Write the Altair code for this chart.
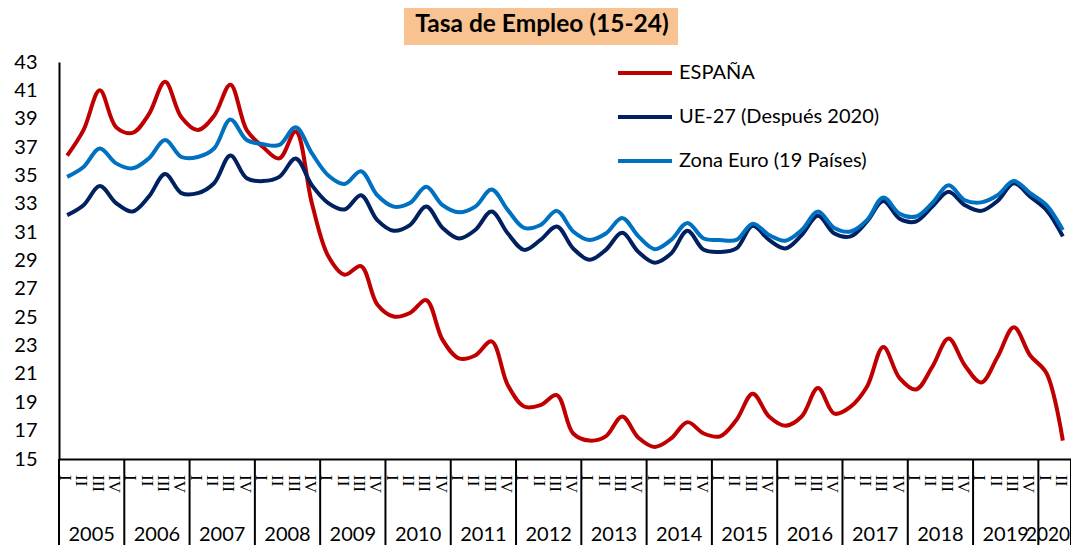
import altair as alt
import pandas as pd

years = list(range(2005, 2021))
quarters = ["I", "II", "III", "IV"]
series_names = ["ESPAÑA", "UE-27 (Después 2020)", "Zona Euro (19 Países)"]
series_colors = ["#C00000", "#002060", "#0070C0"]
title_text = "Tasa de Empleo (15-24)"
y_ticks = list(range(15, 44, 2))

espana = [
    36.4, 38.2, 41.0, 38.4,
    38.0, 39.3, 41.6, 39.1,
    38.2, 39.2, 41.4, 38.2,
    37.0, 36.2, 38.1, 33.0,
    29.3, 28.0, 28.6, 25.9,
    25.05, 25.3, 26.2, 23.4,
    22.1, 22.3, 23.3, 20.2,
    18.7, 18.8, 19.5, 16.8,
    16.3, 16.6, 18.0, 16.5,
    15.85, 16.45, 17.6, 16.8,
    16.6, 17.75, 19.6, 18.0,
    17.35, 18.0, 20.0, 18.2,
    18.7, 20.1, 22.9, 20.7,
    19.9, 21.5, 23.5, 21.6,
    20.4, 22.2, 24.3, 22.3,
    21.05, 16.3,
]
ue27 = [
    32.2, 32.9, 34.25, 33.05,
    32.45, 33.5, 35.1, 33.75,
    33.75, 34.45, 36.4, 34.8,
    34.6, 34.9, 36.2, 34.3,
    33.05, 32.6, 33.6, 31.85,
    31.1, 31.5, 32.8, 31.3,
    30.55, 31.15, 32.45, 30.9,
    29.75, 30.45, 31.4, 29.85,
    29.05, 29.75, 30.95, 29.6,
    28.85, 29.5, 31.1, 29.75,
    29.6, 29.85, 31.45, 30.45,
    29.85, 30.8, 32.15, 30.9,
    30.7, 31.75, 33.2, 31.95,
    31.75, 32.8, 33.85, 32.9,
    32.5, 33.2, 34.45, 33.5,
    32.55, 30.7,
]
zona = [
    34.9, 35.6, 36.9, 35.85,
    35.5, 36.2, 37.5, 36.3,
    36.3, 36.9, 38.95, 37.5,
    37.2, 37.15, 38.4, 36.55,
    35.0, 34.4, 35.3, 33.6,
    32.8, 33.05, 34.2, 32.9,
    32.4, 32.8, 34.0, 32.55,
    31.3, 31.5, 32.5, 31.05,
    30.45, 30.9, 32.0, 30.7,
    29.8, 30.45, 31.65, 30.55,
    30.45, 30.45, 31.6, 30.8,
    30.4, 31.15, 32.45, 31.3,
    31.05, 31.85, 33.45, 32.3,
    32.1, 33.05, 34.3, 33.25,
    33.1, 33.6, 34.6, 33.75,
    32.9, 31.15,
]

n = len(espana)
rows = []
for name, vals in zip(series_names, [espana, ue27, zona]):
    for i, v in enumerate(vals):
        rows.append({"idx": i, "serie": name, "valor": v,
                     "order": series_names.index(name)})
df = pd.DataFrame(rows)

qdf = pd.DataFrame({"idx": list(range(n)), "q": [quarters[i % 4] for i in range(n)]})
ydf = pd.DataFrame({
    "year": [str(y) for y in years],
    "start": [4 * k - 0.5 for k in range(len(years))],
    "mid": [(4 * k - 0.5 + min(4 * k + 3.5, n - 0.5)) / 2 for k in range(len(years))],
})
ydf_full = ydf.iloc[:-1]
ydf_last = pd.DataFrame({"year": [ydf["year"].iloc[-1]], "end": [n - 0.5]})
edge = pd.DataFrame({"start": [n - 0.5]})

W, H = 1012, 397
FONT = "Lato"
xscale = alt.Scale(domain=[-0.5, n - 0.5], nice=False, zero=False)
yscale = alt.Scale(domain=[15, 43], nice=False, zero=False)

lines = alt.Chart(df).mark_line(strokeWidth=4, interpolate="catmull-rom").encode(
    x=alt.X("idx:Q", scale=xscale,
            axis=alt.Axis(labels=False, ticks=False, grid=False, title=None,
                          domainColor="black", domainWidth=2)),
    y=alt.Y("valor:Q", scale=yscale,
            axis=alt.Axis(values=y_ticks, ticks=False, grid=False, title=None,
                          domainColor="black", domainWidth=2, labelFontSize=20,
                          labelFont=FONT, labelColor="black", labelPadding=22)),
    color=alt.Color("serie:N",
                    scale=alt.Scale(domain=series_names, range=series_colors),
                    legend=alt.Legend(orient="none", legendX=557, legendY=-18,
                                      symbolType="stroke", symbolSize=2916,
                                      symbolStrokeWidth=4, labelFontSize=20,
                                      labelFont=FONT, labelColor="black",
                                      labelLimit=0, rowPadding=5, title=None,
                                      labelOffset=5)),
    order="order:Q",
)

sep = alt.Chart(ydf).mark_rule(color="black", strokeWidth=2).encode(
    x=alt.X("start:Q", scale=xscale), y=alt.value(H), y2=alt.value(H + 94))
sep_end = alt.Chart(edge).mark_rule(color="black", strokeWidth=2).encode(
    x=alt.X("start:Q", scale=xscale), y=alt.value(H), y2=alt.value(H + 94))

qlab = alt.Chart(qdf).mark_text(angle=90, align="left", baseline="middle",
                                font="Liberation Serif", fontSize=17, dy=2,
                                color="black").encode(
    x=alt.X("idx:Q", scale=xscale), y=alt.value(H + 16), text="q:N")

ylab = alt.Chart(ydf_full).mark_text(align="center", baseline="middle", font=FONT,
                                     fontSize=20, color="black").encode(
    x=alt.X("mid:Q", scale=xscale), y=alt.value(H + 76), text="year:N")
ylab_last = alt.Chart(ydf_last).mark_text(align="right", baseline="middle",
                                          font=FONT, fontSize=19, dx=-1,
                                          color="black").encode(
    x=alt.X("end:Q", scale=xscale), y=alt.value(H + 76), text="year:N")

tdf = pd.DataFrame({"t": [title_text]})
tbox = alt.Chart(tdf).mark_rect(color="#F8C291").encode(
    x=alt.value(345), x2=alt.value(619), y=alt.value(-57), y2=alt.value(-17))
ttext = alt.Chart(tdf).mark_text(font=FONT, fontSize=24.5, fontWeight="bold",
                                 color="black", align="center",
                                 baseline="middle").encode(
    x=alt.value(483), y=alt.value(-37), text="t:N")

chart = alt.layer(tbox, ttext, sep, sep_end, qlab, ylab, ylab_last, lines).properties(
    width=W, height=H,
    autosize=alt.AutoSizeParams(type="none"),
    padding={"left": 51, "top": 54, "right": 0, "bottom": 86},
).configure_view(stroke=None)

chart.save("out.html", embed_options={"renderer": "svg", "actions": False})
